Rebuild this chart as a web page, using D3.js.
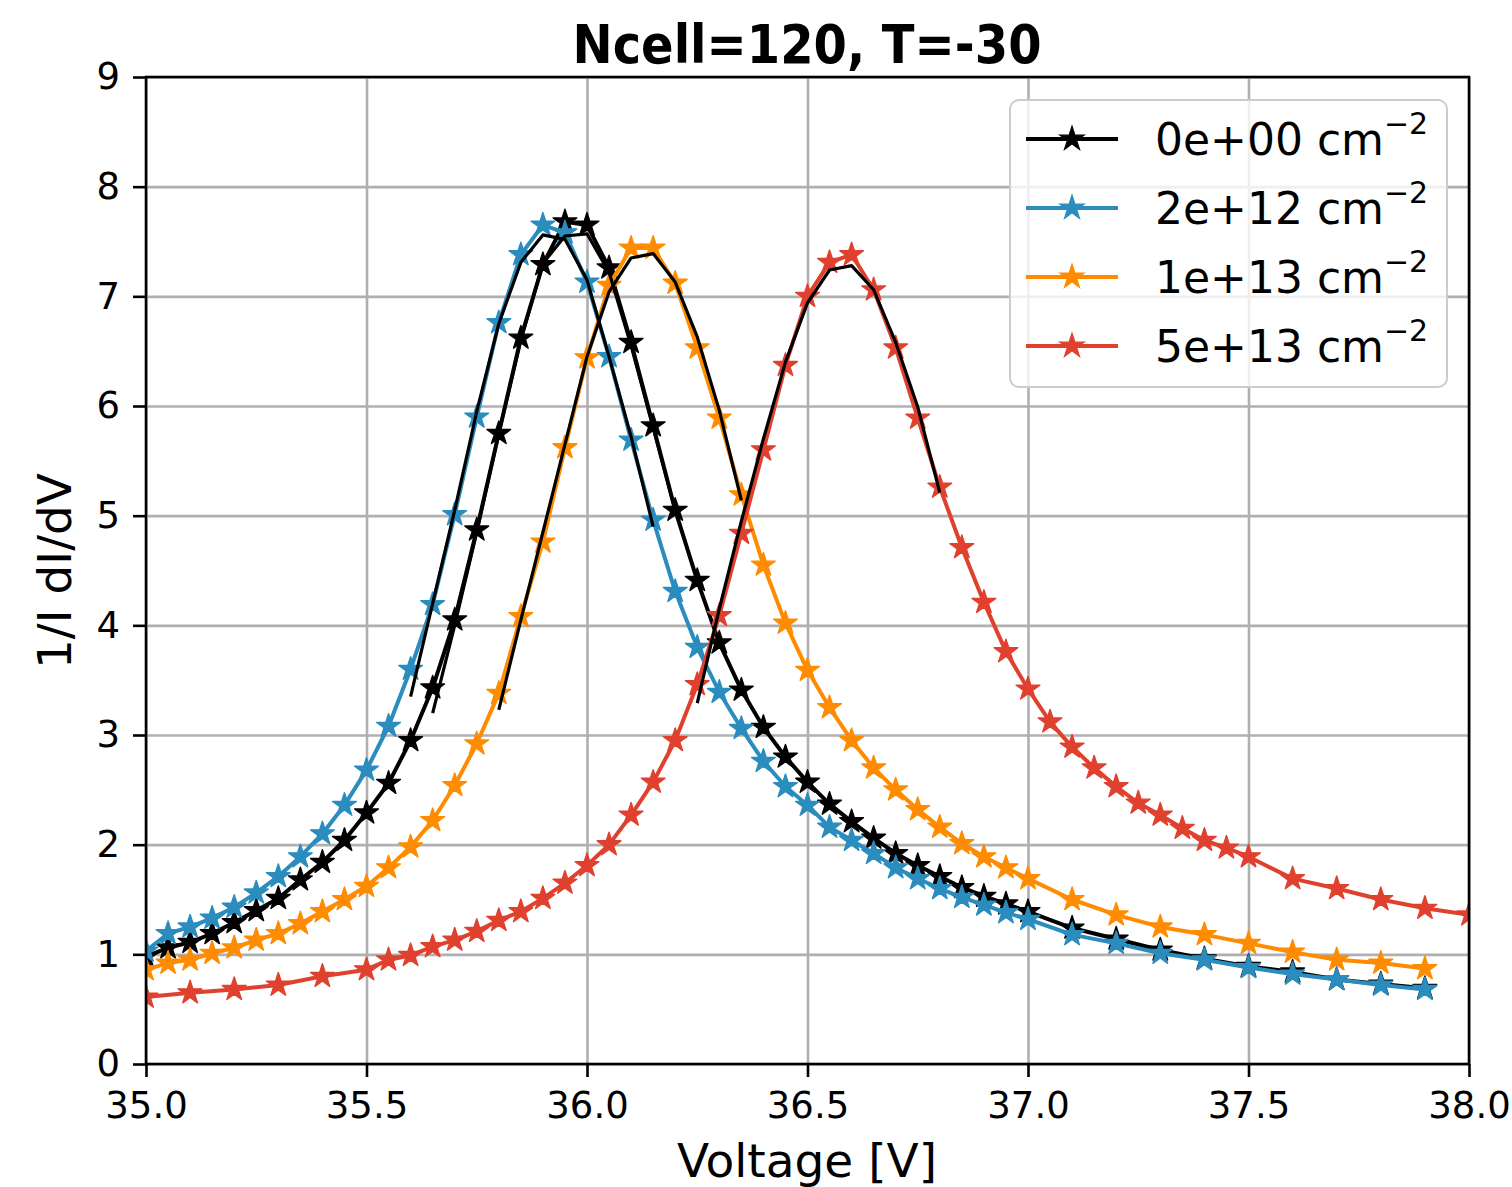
<!DOCTYPE html>
<html>
<head>
<meta charset="utf-8">
<script src="https://cdn.jsdelivr.net/npm/d3@7"></script>
<style>
  html, body { margin: 0; padding: 0; background: #fff; }
  svg { display: block; }
  text { font-family: "DejaVu Sans", sans-serif; fill: #000; }
</style>
</head>
<body>
<svg id="chart" width="1512" height="1187"></svg>
<script>
// ---------------- data ----------------
const titleText = "Ncell=120, T=-30";
const xLabel = "Voltage [V]";
const yLabel = "1/I dI/dV";
const xTicks = [35.0, 35.5, 36.0, 36.5, 37.0, 37.5, 38.0];
const yTicks = [0, 1, 2, 3, 4, 5, 6, 7, 8, 9];

const legendLabels = ["0e+00", "2e+12", "1e+13", "5e+13"];
const seriesColors = ["#000000", "#2b8cbe", "#ff8c00", "#e0412f"];

const voltsA = [35.00, 35.05, 35.10, 35.15, 35.20, 35.25, 35.30, 35.35, 35.40, 35.45,
  35.50, 35.55, 35.60, 35.65, 35.70, 35.75, 35.80, 35.85, 35.90, 35.95,
  36.00, 36.05, 36.10, 36.15, 36.20, 36.25, 36.30, 36.35, 36.40, 36.45,
  36.50, 36.55, 36.60, 36.65, 36.70, 36.75, 36.80, 36.85, 36.90, 36.95,
  37.00, 37.10, 37.20, 37.30, 37.40, 37.50, 37.60, 37.70, 37.80, 37.90];

const voltsRed = [35.0, 35.1, 35.2, 35.3, 35.4, 35.5,
  35.55, 35.60, 35.65, 35.70, 35.75, 35.80, 35.85, 35.90, 35.95, 36.00,
  36.05, 36.10, 36.15, 36.20, 36.25, 36.30, 36.35, 36.40, 36.45, 36.50,
  36.55, 36.60, 36.65, 36.70, 36.75, 36.80, 36.85, 36.90, 36.95, 37.00,
  37.05, 37.10, 37.15, 37.20, 37.25, 37.30, 37.35, 37.40, 37.45, 37.50,
  37.6, 37.7, 37.8, 37.9, 38.0];

const valsBlack = [0.98, 1.06, 1.11, 1.19, 1.29, 1.40, 1.51, 1.68, 1.84, 2.04,
  2.29, 2.56, 2.95, 3.43, 4.05, 4.87, 5.75, 6.62, 7.29, 7.68,
  7.65, 7.26, 6.58, 5.82, 5.05, 4.41, 3.84, 3.41, 3.07, 2.80,
  2.57, 2.37, 2.21, 2.06, 1.92, 1.81, 1.71, 1.61, 1.53, 1.46,
  1.39, 1.24, 1.14, 1.04, 0.96, 0.89, 0.84, 0.77, 0.73, 0.69];

const valsBlue = [1.03, 1.19, 1.25, 1.33, 1.43, 1.56, 1.71, 1.89, 2.10, 2.36,
  2.68, 3.08, 3.60, 4.19, 5.01, 5.90, 6.76, 7.38, 7.65, 7.58,
  7.13, 6.45, 5.69, 4.96, 4.31, 3.80, 3.39, 3.06, 2.76, 2.53,
  2.36, 2.16, 2.04, 1.92, 1.79, 1.69, 1.60, 1.52, 1.45, 1.38,
  1.32, 1.18, 1.10, 1.01, 0.95, 0.88, 0.82, 0.77, 0.72, 0.68];

const valsOrange = [0.86, 0.92, 0.95, 1.01, 1.06, 1.13, 1.19, 1.28, 1.39, 1.50,
  1.62, 1.79, 1.98, 2.22, 2.54, 2.92, 3.38, 4.08, 4.76, 5.62,
  6.44, 7.10, 7.44, 7.44, 7.12, 6.53, 5.89, 5.19, 4.55, 4.02,
  3.59, 3.25, 2.95, 2.70, 2.50, 2.32, 2.16, 2.01, 1.89, 1.79,
  1.69, 1.50, 1.36, 1.25, 1.18, 1.10, 1.02, 0.95, 0.92, 0.87];

const valsRed = [0.61, 0.65, 0.68, 0.72, 0.80, 0.86,
  0.95, 0.99, 1.07, 1.13, 1.21, 1.31, 1.39, 1.51, 1.65, 1.81,
  2.00, 2.27, 2.57, 2.95, 3.46, 4.09, 4.84, 5.60, 6.37, 7.00,
  7.31, 7.38, 7.06, 6.53, 5.89, 5.26, 4.71, 4.21, 3.76, 3.42,
  3.12, 2.89, 2.70, 2.53, 2.38, 2.27, 2.15, 2.04, 1.97, 1.89,
  1.69, 1.60, 1.50, 1.42, 1.36];

// peak fits (thin black lines)
const fitVoltsBlack = [35.65, 35.70, 35.75, 35.80, 35.85, 35.90, 35.95, 36.00, 36.05, 36.10, 36.15, 36.20];
const fitValsBlack = [3.20, 4.00, 4.85, 5.75, 6.60, 7.30, 7.55, 7.57, 7.22, 6.55, 5.80, 5.05];
const fitVoltsBlue = [35.60, 35.65, 35.70, 35.75, 35.80, 35.85, 35.90, 35.95, 36.00, 36.05, 36.10, 36.15];
const fitValsBlue = [3.35, 4.20, 5.05, 5.95, 6.75, 7.31, 7.56, 7.52, 7.15, 6.45, 5.72, 4.90];
const fitVoltsOrange = [35.80, 35.85, 35.90, 35.95, 36.00, 36.05, 36.10, 36.15, 36.20, 36.25, 36.30, 36.35];
const fitValsOrange = [3.23, 4.05, 4.85, 5.65, 6.45, 7.04, 7.35, 7.39, 7.13, 6.63, 5.96, 5.14];
const fitVoltsRed = [36.25, 36.30, 36.35, 36.40, 36.45, 36.50, 36.55, 36.60, 36.65, 36.70, 36.75, 36.80];
const fitValsRed = [3.29, 4.15, 4.95, 5.70, 6.40, 6.94, 7.24, 7.28, 7.06, 6.58, 5.99, 5.21];

// ---------------- build ----------------
const series = [
  { volts: voltsA, vals: valsBlack, color: seriesColors[0], label: legendLabels[0] },
  { volts: voltsA, vals: valsBlue, color: seriesColors[1], label: legendLabels[1] },
  { volts: voltsA, vals: valsOrange, color: seriesColors[2], label: legendLabels[2] },
  { volts: voltsRed, vals: valsRed, color: seriesColors[3], label: legendLabels[3] }
];
const fits = [
  { volts: fitVoltsBlack, vals: fitValsBlack },
  { volts: fitVoltsBlue, vals: fitValsBlue },
  { volts: fitVoltsOrange, vals: fitValsOrange },
  { volts: fitVoltsRed, vals: fitValsRed }
];

const svg = d3.select("#chart");
const L = 146, R = 1469, T = 77, B = 1064;
const W = R - L, H = B - T;

const x = d3.scaleLinear().domain([35, 38]).range([L, R]);
const y = d3.scaleLinear().domain([0, 9]).range([B, T]);

// grid
const gridG = svg.append("g");
gridG.append("g").attr("transform", `translate(0,${B})`)
  .call(d3.axisBottom(x).tickValues(xTicks).tickSize(-H).tickFormat(""))
  .call(g => g.select(".domain").remove())
  .call(g => g.selectAll("line").attr("stroke", "#b0b0b0").attr("stroke-width", 2.6));
gridG.append("g").attr("transform", `translate(${L},0)`)
  .call(d3.axisLeft(y).tickValues(yTicks).tickSize(-W).tickFormat(""))
  .call(g => g.select(".domain").remove())
  .call(g => g.selectAll("line").attr("stroke", "#b0b0b0").attr("stroke-width", 2.6));

// clip
svg.append("clipPath").attr("id", "clip").append("rect")
  .attr("x", L).attr("y", T).attr("width", W).attr("height", H);
const plot = svg.append("g").attr("clip-path", "url(#clip)");

const line = d3.line().x(d => x(d[0])).y(d => y(d[1]));
const star = d3.symbol().type(d3.symbolStar).size(175);

series.forEach(s => {
  const pts = s.volts.map((v, i) => [v, s.vals[i]]);
  const g = plot.append("g");
  g.append("path").datum(pts).attr("d", line)
    .attr("fill", "none").attr("stroke", s.color).attr("stroke-width", 4)
    .attr("stroke-linejoin", "round");
  g.selectAll("path.m").data(pts).enter().append("path").attr("class", "m")
    .attr("d", star)
    .attr("transform", d => `translate(${x(d[0])},${y(d[1])})`)
    .attr("fill", s.color).attr("stroke", s.color).attr("stroke-width", 1.4)
    .attr("stroke-linejoin", "round");
});

fits.forEach(f => {
  const pts = f.volts.map((v, i) => [v, f.vals[i]]);
  plot.append("path").datum(pts).attr("d", line)
    .attr("fill", "none").attr("stroke", "#000").attr("stroke-width", 3.2)
    .attr("stroke-linejoin", "round");
});

// axes
const xAxis = svg.append("g").attr("transform", `translate(0,${B})`)
  .call(d3.axisBottom(x).tickValues(xTicks).tickFormat(d3.format(".1f")).tickSize(13).tickPadding(15));
const yAxis = svg.append("g").attr("transform", `translate(${L},0)`)
  .call(d3.axisLeft(y).tickValues(yTicks).tickFormat(d3.format("d")).tickSize(13).tickPadding(13));
[xAxis, yAxis].forEach(a => {
  a.select(".domain").remove();
  a.selectAll("line").attr("stroke", "#000").attr("stroke-width", 2.6);
  a.selectAll("text").attr("font-family", "DejaVu Sans").attr("font-size", 37).attr("fill", "#000");
});

// frame
svg.append("rect").attr("x", L).attr("y", T).attr("width", W).attr("height", H)
  .attr("fill", "none").attr("stroke", "#000").attr("stroke-width", 2.6);

// title & labels
svg.append("text").attr("transform", "translate(807,63) scale(1,1.12)")
  .attr("text-anchor", "middle").attr("font-size", 48).attr("font-weight", "bold")
  .text(titleText);
svg.append("text").attr("x", 807).attr("y", 1177).attr("text-anchor", "middle")
  .attr("font-size", 47).text(xLabel);
svg.append("text").attr("transform", "translate(71,571) rotate(-90)")
  .attr("text-anchor", "middle").attr("font-size", 47).text(yLabel);

// legend
const lg = svg.append("g");
lg.append("rect").attr("x", 1010).attr("y", 100).attr("width", 437).attr("height", 287)
  .attr("rx", 9).attr("fill", "#fff").attr("fill-opacity", 0.8)
  .attr("stroke", "#cccccc").attr("stroke-width", 2);
series.forEach((s, i) => {
  const yy = 139 + i * 69;
  lg.append("line").attr("x1", 1026).attr("x2", 1118).attr("y1", yy).attr("y2", yy)
    .attr("stroke", s.color).attr("stroke-width", 4);
  lg.append("path").attr("d", star).attr("transform", `translate(1072,${yy})`)
    .attr("fill", s.color).attr("stroke", s.color).attr("stroke-width", 1.4);
  const t = lg.append("text").attr("x", 1155).attr("y", yy + 16).attr("font-size", 44);
  t.append("tspan").text(s.label + " cm");
  t.append("tspan").attr("dy", -21).attr("font-size", 30).text("\u22122");
});
</script>
</body>
</html>
